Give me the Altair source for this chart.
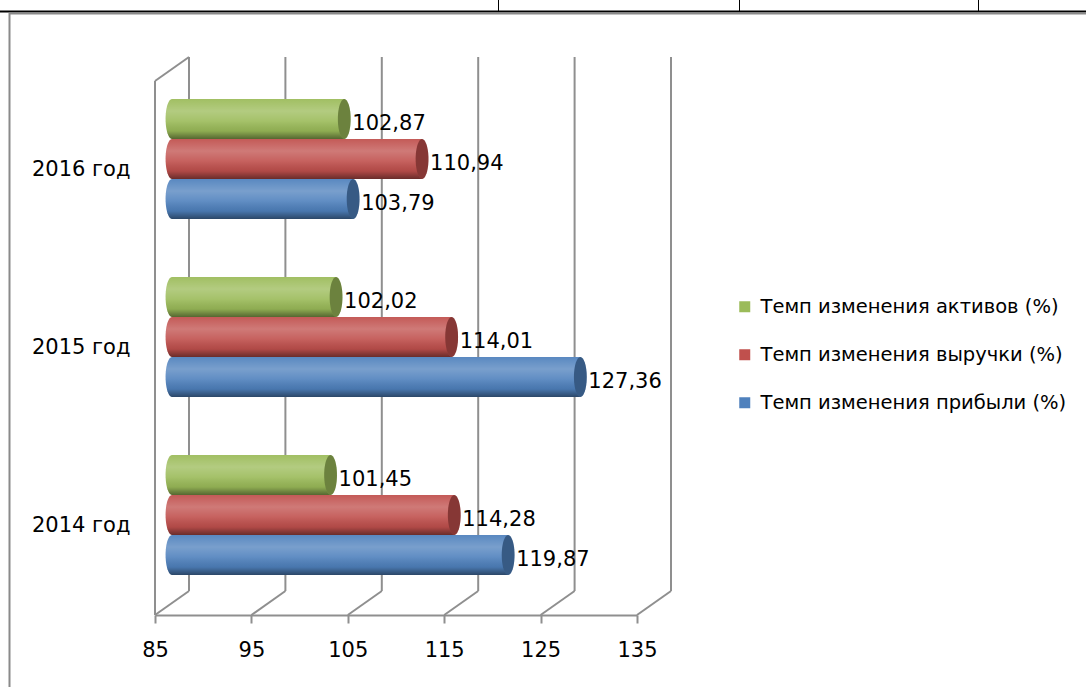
import math
import altair as alt
import pandas as pd

# ---- chart values -------------------------------------------------------
years = ["2016 год", "2015 год", "2014 год"]
series_names = [
    "Темп изменения активов (%)",
    "Темп изменения выручки (%)",
    "Темп изменения прибыли (%)",
]
assets = [102.87, 102.02, 101.45]
revenue = [110.94, 114.01, 114.28]
profit = [103.79, 127.36, 119.87]
x_ticks = [85, 95, 105, 115, 125, 135]

series_values = [assets, revenue, profit]
series_colors = ["#9bbb59", "#c0504d", "#4f81bd"]

rows = []
for name, vals in zip(series_names, series_values):
    for year, v in zip(years, vals):
        rows.append({"year": year, "series": name, "value": v,
                     "label": f"{v:.2f}".replace(".", ",")})
df = pd.DataFrame(rows)
ticks_df = pd.DataFrame({"tick": x_ticks})
one_df = pd.DataFrame({"tick": [x_ticks[0]]})

# ---- geometry of the pseudo-3D box ---------------------------------------
W, H = 482, 534          # front plane of the plot
DX, DY = 34, 24          # depth of the box (back wall offset)
BAR_DX = 17              # bars sit halfway into the box
BAR_H = 40
GRID = "#8f8f8f"
FONT = "DejaVu Sans"

# ellipse outline used for the cylinder end caps (unit box -1..1)
_pts = [(0.32 * math.cos(2 * math.pi * k / 48), math.sin(2 * math.pi * k / 48))
        for k in range(48)]
ELLIPSE = "M" + "L".join(f"{x:.4f},{y:.4f}" for x, y in _pts) + "Z"

x_scale = alt.Scale(domain=[85, 135], nice=False, zero=False)
y_scale = alt.Scale(domain=years, paddingInner=0, paddingOuter=0)
color_scale = alt.Scale(domain=series_names, range=series_colors)

shade = alt.LinearGradient(
    gradient="linear", x1=0, y1=0, x2=0, y2=1,
    stops=[
        alt.GradientStop(color="rgba(255,255,255,0.06)", offset=0),
        alt.GradientStop(color="rgba(255,255,255,0.24)", offset=0.3),
        alt.GradientStop(color="rgba(255,255,255,0.10)", offset=0.55),
        alt.GradientStop(color="rgba(0,0,0,0.08)", offset=0.8),
        alt.GradientStop(color="rgba(0,0,0,0.45)", offset=1),
    ],
)

x_axis = alt.Axis(values=x_ticks, grid=False, domainColor=GRID, domainWidth=2,
                  tickColor=GRID, tickWidth=2, tickSize=8, labelFontSize=21,
                  labelColor="black", labelPadding=16, labelFlush=False,
                  title=None, labelFont=FONT)
y_axis = alt.Axis(domain=False, ticks=False, labelFontSize=21, labelColor="black",
                  labelPadding=25, title=None, labelFont=FONT)

# ---- page frame lines around the chart ----------------------------------
frame_base = alt.Chart(one_df)
page_lines = [
    frame_base.mark_rule(color="black", strokeWidth=2).encode(
        x=alt.value(-155), x2=alt.value(931), y=alt.value(-69.5)),
    frame_base.mark_rule(color="#8a8a8a", strokeWidth=2).encode(
        x=alt.value(-146), x2=alt.value(931), y=alt.value(-67.5)),
    frame_base.mark_rule(color="#8a8a8a", strokeWidth=2).encode(
        x=alt.value(-145.5), y=alt.value(-68), y2=alt.value(606)),
]
for px in [498, 739, 978]:
    page_lines.append(frame_base.mark_rule(color="black", strokeWidth=1).encode(
        x=alt.value(px - 155 + 0.5), y=alt.value(-81), y2=alt.value(-70)))

# ---- box: back wall grid, floor, left wall -------------------------------
back_grid = alt.Chart(ticks_df).mark_rule(
    color=GRID, strokeWidth=2, xOffset=DX).encode(
    x=alt.X("tick:Q", scale=x_scale, axis=x_axis),
    y=alt.value(-DY), y2=alt.value(H - DY))

floor_lines = alt.Chart(ticks_df).mark_rule(
    color=GRID, strokeWidth=2, x2Offset=DX).encode(
    x="tick:Q", x2="tick:Q", y=alt.value(H), y2=alt.value(H - DY))

wall_top = alt.Chart(one_df).mark_rule(
    color=GRID, strokeWidth=2, x2Offset=DX).encode(
    x="tick:Q", x2="tick:Q", y=alt.value(0), y2=alt.value(-DY))

wall_front = alt.Chart(one_df).mark_rule(color=GRID, strokeWidth=2).encode(
    x="tick:Q", y=alt.value(0), y2=alt.value(H))

layers = page_lines + [back_grid, floor_lines, wall_top, wall_front]

# ---- cylinders ------------------------------------------------------------
offsets = [-51, -11, 29]
for name, off in zip(series_names, offsets):
    base = alt.Chart(df).transform_filter(alt.datum.series == name)
    y_enc = alt.Y("year:N", scale=y_scale, axis=y_axis, sort=years)
    color_enc = alt.Color("series:N", scale=color_scale, legend=alt.Legend(
        orient="none", legendX=580, legendY=216, title=None,
        symbolType="square", symbolSize=121, symbolStrokeWidth=0,
        labelFontSize=19.5, labelFont=FONT, labelColor="black", labelLimit=500,
        labelOffset=6, rowPadding=27))

    left_cap = base.mark_point(shape=ELLIPSE, size=BAR_H ** 2, filled=True,
                               opacity=1, xOffset=BAR_DX, yOffset=off).encode(
        x=alt.datum(85), y=y_enc, color=color_enc)
    left_cap_shade = base.mark_point(shape=ELLIPSE, size=BAR_H ** 2, filled=True,
                                     opacity=1, xOffset=BAR_DX, yOffset=off,
                                     fill=shade, strokeWidth=0).encode(
        x=alt.datum(85), y=y_enc)
    body = base.mark_bar(size=BAR_H, xOffset=BAR_DX, x2Offset=BAR_DX,
                         yOffset=off).encode(
        x="value:Q", x2=alt.datum(85), y=y_enc, color=color_enc)
    body_shade = base.mark_bar(size=BAR_H, xOffset=BAR_DX, x2Offset=BAR_DX,
                               yOffset=off, fill=shade).encode(
        x="value:Q", x2=alt.datum(85), y=y_enc)
    end_cap = base.mark_point(shape=ELLIPSE, size=BAR_H ** 2, filled=True,
                              opacity=1, xOffset=BAR_DX, yOffset=off).encode(
        x="value:Q", y=y_enc, color=color_enc)
    end_cap_dark = base.mark_point(shape=ELLIPSE, size=BAR_H ** 2, filled=True,
                                   color="black", opacity=0.3, xOffset=BAR_DX,
                                   yOffset=off).encode(x="value:Q", y=y_enc)
    labels = base.mark_text(align="left", baseline="middle", fontSize=21,
                            font=FONT, color="black", dx=BAR_DX + 8,
                            dy=off + 5).encode(
        x="value:Q", y=y_enc, text="label:N")
    layers += [left_cap, left_cap_shade, body, body_shade, end_cap,
               end_cap_dark, labels]

chart = alt.layer(*layers).properties(
    width=W, height=H,
    padding={"left": 155, "top": 81, "right": 449, "bottom": 72},
    autosize="none",
    background="white",
).configure_view(stroke=None)

chart.save("out.html", embed_options={"renderer": "svg", "actions": False})
